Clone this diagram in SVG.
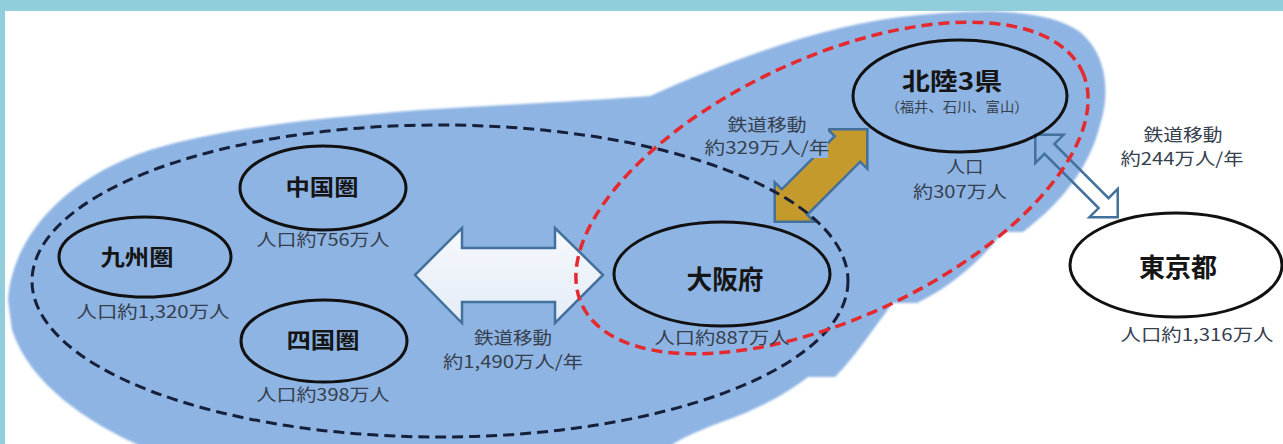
<svg xmlns="http://www.w3.org/2000/svg" width="1283" height="444" viewBox="0 0 1283 444">
<style>
.t{font-family:"Noto Sans CJK JP","Noto Sans",sans-serif;font-weight:700;fill:#151515;text-anchor:middle}
.l{font-family:"Noto Sans CJK JP","Noto Sans",sans-serif;font-weight:400;fill:#363f4e;text-anchor:middle;font-size:17px}
.node{fill:none;stroke:#111;stroke-width:3}
.blk{fill:none;stroke:#17203a;stroke-width:3;stroke-dasharray:11 6}
.red{fill:none;stroke:#e52a2f;stroke-width:3.5;stroke-dasharray:11 6}
.arr{stroke:#41719c;stroke-width:2.5;stroke-linejoin:miter}
</style>
<defs>
<linearGradient id="wg" x1="0" y1="0" x2="0" y2="1">
<stop offset="0" stop-color="#f7f9fd"/>
<stop offset="1" stop-color="#e4ecf7"/>
</linearGradient>
<filter id="soft" x="-5%" y="-5%" width="110%" height="110%"><feGaussianBlur stdDeviation="1.2"/></filter>
</defs>
<rect x="0" y="0" width="1283" height="444" fill="#ffffff"/>
<g id="background">
<path filter="url(#soft)" fill="#8eb4e3" d="M 8,300 C 12,240 60,180 150,150 C 220,128 320,118 420,110 C 520,104 600,100 650,96 C 730,60 830,22 920,15 C 990,8 1050,10 1080,32 C 1108,55 1110,95 1100,125 C 1090,165 1065,200 1023,232 L 1003,232 C 980,262 950,287 917,303 L 893,303 C 872,330 855,357 835,377 L 808,377 C 785,395 755,410 727,420 C 700,430 680,438 665,450 L 150,450 C 90,425 30,385 12,330 Z"/>
<rect x="0" y="0" width="1283" height="11" fill="#92cddc"/>
<rect x="0" y="0" width="5" height="444" fill="#92cddc"/>
</g>
<g id="connectors">
<path class="arr" fill="url(#wg)" d="M415,275 L462,228 L462,248 L555,248 L555,228 L603,275 L555,323 L555,302 L462,302 L462,323 Z"/>
<path class="arr" fill="#c49a2c" transform="translate(821,175.5) rotate(-45)" d="M-65.5,0 L-37.5,-28 L-37.5,-18 L37.5,-18 L37.5,-28 L65.5,0 L37.5,28 L37.5,18 L-37.5,18 L-37.5,28 Z"/>
<path class="arr" fill="none" transform="translate(1076.5,176) rotate(45)" d="M-58.3,0 L-38.3,-20 L-38.3,-7 L38.3,-7 L38.3,-20 L58.3,0 L38.3,20 L38.3,7 L-38.3,7 L-38.3,20 Z"/>
</g>
<rect x="728" y="113" width="100" height="45" fill="#8eb4e3"/>
<g id="regions">
<ellipse class="blk" cx="440" cy="281" rx="408" ry="156"/>
<ellipse class="red" cx="832" cy="188" rx="276" ry="130" transform="rotate(-25 832 188)"/>
</g>
<g id="chugoku">
<ellipse class="node" cx="323" cy="188" rx="83" ry="42"/>
<text class="t" x="322" y="195" font-size="22" textLength="73" lengthAdjust="spacingAndGlyphs">中国圏</text>
<text class="l" x="323" y="246" textLength="133" lengthAdjust="spacingAndGlyphs">人口約756万人</text>
</g>
<g id="kyushu">
<ellipse class="node" cx="145" cy="257" rx="86" ry="40"/>
<text class="t" x="137" y="265" font-size="22" textLength="73" lengthAdjust="spacingAndGlyphs">九州圏</text>
<text class="l" x="153" y="318" textLength="153" lengthAdjust="spacingAndGlyphs">人口約1,320万人</text>
</g>
<g id="shikoku">
<ellipse class="node" cx="324" cy="341" rx="83" ry="41"/>
<text class="t" x="323" y="348" font-size="22" textLength="73" lengthAdjust="spacingAndGlyphs">四国圏</text>
<text class="l" x="323" y="401" textLength="133" lengthAdjust="spacingAndGlyphs">人口約398万人</text>
</g>
<g id="osaka">
<ellipse class="node" cx="722" cy="274" rx="108" ry="52"/>
<text class="t" x="725" y="289" font-size="26" textLength="77" lengthAdjust="spacingAndGlyphs">大阪府</text>
<text class="l" x="722" y="344" textLength="135" lengthAdjust="spacingAndGlyphs">人口約887万人</text>
</g>
<g id="hokuriku">
<ellipse class="node" cx="960" cy="96" rx="107" ry="56"/>
<text class="t" x="952" y="90" font-size="24" textLength="100" lengthAdjust="spacingAndGlyphs">北陸3県</text>
<text class="l" x="957" y="112" style="font-size:14px" textLength="143" lengthAdjust="spacingAndGlyphs">（福井、石川、富山）</text>
<text class="l" x="965" y="173" textLength="37" lengthAdjust="spacingAndGlyphs">人口</text>
<text class="l" x="960" y="198" textLength="94" lengthAdjust="spacingAndGlyphs">約307万人</text>
</g>
<g id="tokyo">
<ellipse class="node" cx="1176" cy="265" rx="106" ry="52" fill="#ffffff"/>
<text class="t" x="1178" y="277" font-size="26" textLength="78" lengthAdjust="spacingAndGlyphs">東京都</text>
<text class="l" x="1197" y="341" textLength="153" lengthAdjust="spacingAndGlyphs">人口約1,316万人</text>
</g>
<g id="flow-labels">
<text class="l" x="767" y="131" textLength="79" lengthAdjust="spacingAndGlyphs">鉄道移動</text>
<text class="l" x="767" y="154" textLength="125" lengthAdjust="spacingAndGlyphs">約329万人/年</text>
<text class="l" x="1183" y="141" textLength="79" lengthAdjust="spacingAndGlyphs">鉄道移動</text>
<text class="l" x="1182" y="165" textLength="123" lengthAdjust="spacingAndGlyphs">約244万人/年</text>
<text class="l" x="513" y="344" textLength="78" lengthAdjust="spacingAndGlyphs">鉄道移動</text>
<text class="l" x="513" y="368" textLength="140" lengthAdjust="spacingAndGlyphs">約1,490万人/年</text>
</g>
</svg>
